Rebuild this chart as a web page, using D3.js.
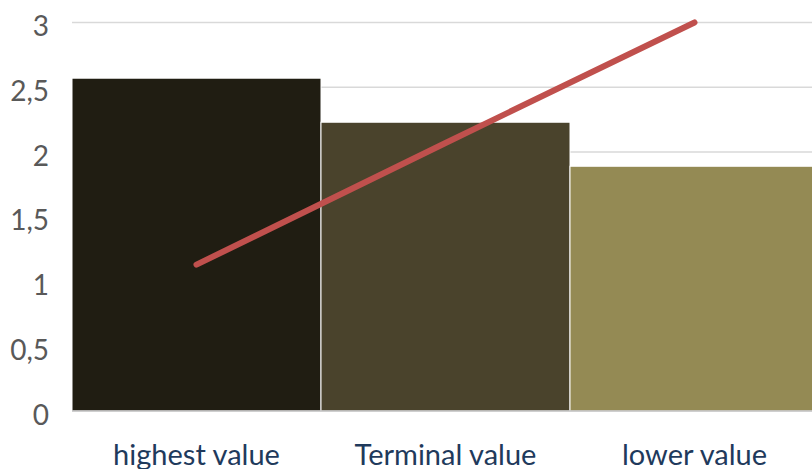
<!DOCTYPE html>
<html>
<head>
<meta charset="utf-8">
<script src="https://cdn.jsdelivr.net/npm/d3@7"></script>
<style>
  html, body { margin: 0; padding: 0; background: #fff; overflow: hidden; }
  svg { display: block; }
</style>
</head>
<body>
<svg id="chart" width="812" height="469"></svg>
<script>
const categories = ["highest value", "Terminal value", "lower value"];
const barValues = [2.57, 2.23, 1.89];
const lineValues = [1.13, 2.07, 3.0];
const yTicks = [0, 0.5, 1, 1.5, 2, 2.5, 3];
const barColors = ["#201d12", "#4a432c", "#948a54"];

(function () {
const svg = d3.select("#chart");
const W = 812, H = 469;
const mLeft = 72, mRight = 819, mTop = 22.5, mBottom = 411;

const x = d3.scaleBand().domain(categories).range([mLeft, mRight]).padding(0);
const y = d3.scaleLinear().domain([0, 3]).range([mBottom, mTop]);

// gridlines
svg.append("g").selectAll("line")
  .data(yTicks.filter(d => d > 0))
  .join("line")
  .attr("x1", mLeft).attr("x2", W)
  .attr("y1", d => y(d)).attr("y2", d => y(d))
  .attr("stroke", "#d9d9d9").attr("stroke-width", 1.3);

// bars
svg.append("g").selectAll("rect")
  .data(categories)
  .join("rect")
  .attr("x", d => x(d))
  .attr("y", (d, i) => y(barValues[i]))
  .attr("width", x.bandwidth())
  .attr("height", (d, i) => y(0) - y(barValues[i]))
  .attr("fill", (d, i) => barColors[i])
  .attr("stroke", "#ffffff").attr("stroke-width", 1);

// baseline
svg.append("line")
  .attr("x1", mLeft).attr("x2", W)
  .attr("y1", y(0)).attr("y2", y(0))
  .attr("stroke", "#bfbfbf").attr("stroke-width", 1.3);

// y axis labels
const yAxis = d3.axisLeft(y).tickValues(yTicks)
  .tickFormat(d => String(d).replace(".", ","))
  .tickSize(0).tickPadding(23);
const gy = svg.append("g").attr("transform", `translate(${mLeft},0)`).call(yAxis);
gy.select(".domain").remove();
gy.selectAll("text")
  .attr("font-family", "Lato, 'Open Sans', sans-serif")
  .attr("font-size", 28)
  .attr("fill", "#595959")
  .attr("dy", "0.47em");

// x axis labels
const xAxis = d3.axisBottom(x).tickSize(0).tickPadding(0);
const gx = svg.append("g").attr("transform", `translate(0,${mBottom})`).call(xAxis);
gx.select(".domain").remove();
gx.selectAll("text")
  .attr("font-family", "Lato, 'Open Sans', sans-serif")
  .attr("font-size", 29)
  .attr("fill", "#1f3a5c")
  .attr("y", 0)
  .attr("dy", 54);

// line
const line = d3.line()
  .x((d, i) => x(categories[i]) + x.bandwidth() / 2)
  .y(d => y(d));
svg.append("path")
  .datum(lineValues)
  .attr("d", line)
  .attr("fill", "none")
  .attr("stroke", "#c0504d")
  .attr("stroke-width", 6)
  .attr("stroke-linecap", "round")
  .attr("stroke-linejoin", "round");
})();
</script>
</body>
</html>
